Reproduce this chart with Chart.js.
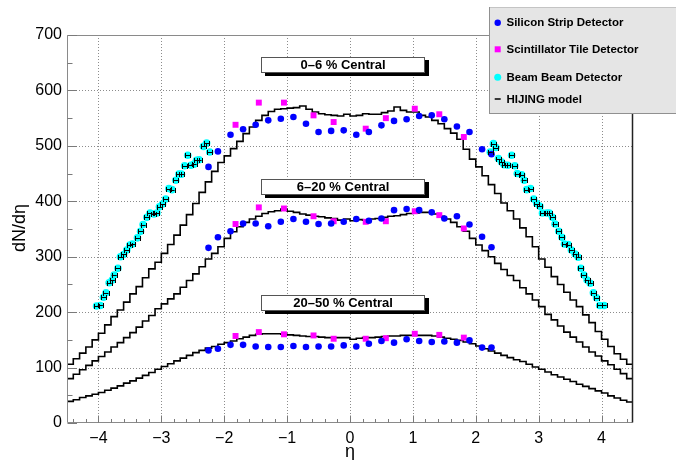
<!DOCTYPE html>
<html>
<head>
<meta charset="utf-8">
<script src="https://cdn.jsdelivr.net/npm/chart.js@4.4.1/dist/chart.umd.min.js"></script>
<style>
html,body{margin:0;padding:0;background:#fff;}
#wrap{position:relative;width:676px;height:460px;}
</style>
</head>
<body>
<div id="wrap"><canvas id="c" width="676" height="460"></canvas></div>
<script>
// ---------- DATA ----------
const xTicks = [-4, -3, -2, -1, 0, 1, 2, 3, 4];
const yTicks = [0, 100, 200, 300, 400, 500, 600, 700];

// HIJING histogram: 90 bins of width 0.1 from -4.5 to 4.5 (values per bin)
const hijingLowEdges = Array.from({length: 90}, (_, i) => -4.5 + i * 0.1);
const hijing0to6 = [
  106,116,126,137,150,162,177,192,204,218,
  233,246,262,278,290,306,322,339,357,376,
  396,416,435,454,470,482,495,508,522,534,
  546,555,562,566,567,568,569,572,566,561,
  558,556,555,554,557,554,555,558,557,557,
  560,563,570,564,561,561,555,552,546,540,
  531,523,512,494,476,462,446,430,414,397,
  383,368,352,336,318,296,281,264,250,236,
  222,210,195,181,165,151,138,125,115,106
];
const hijing6to20 = [
  80,88,96,104,112,120,128,137,145,154,
  163,173,184,194,206,215,224,233,245,257,
  269,282,296,306,318,333,345,354,362,368,
  373,378,381,383,386,382,380,377,375,373,
  372,370,369,366,368,365,367,366,368,369,
  371,373,374,376,378,379,380,380,377,373,
  368,362,354,346,333,321,311,300,288,277,
  266,257,244,233,222,210,196,186,175,164,
  155,146,137,128,121,112,105,97,89,80
];
const hijing20to50 = [
  39,42,46,49,52,55,59,63,67,72,
  76,81,86,91,97,102,107,112,117,122,
  127,131,135,138,142,145,148,152,155,158,
  160,161,161,161,160,159,158,157,156,156,
  155,154,154,154,154,151,153,154,154,155,
  156,157,157,158,158,158,158,158,157,155,
  153,151,149,146,143,139,134,130,126,122,
  118,114,111,106,101,97,92,87,83,79,
  75,70,66,62,58,54,49,45,41,38
];

// Silicon Strip Detector
const ssdEta = [-2.25,-2.1,-1.9,-1.7,-1.5,-1.3,-1.1,-0.9,-0.7,-0.5,-0.3,-0.1,0.1,0.3,0.5,0.7,0.9,1.1,1.3,1.5,1.7,1.9,2.1,2.25];
const ssd0to6   = [462,490,520,530,538,546,549,552,540,525,527,528,520,525,537,545,548,554,555,548,535,525,494,485];
const ssd6to20  = [316,335,346,360,360,355,363,368,363,359,360,363,368,365,369,384,386,384,380,369,373,358,336,317];
const ssd20to50 = [131,134,141,141,138,137,137,139,137,138,138,140,138,143,148,145,151,148,146,147,145,149,136,136];

// Scintillator Tile Detector
const stdEta = [-1.82,-1.45,-1.05,-0.58,-0.26,0.25,0.57,1.03,1.42,1.81];
const std0to6   = [538,578,578,555,543,531,550,567,557,516];
const std6to20  = [359,389,387,373,364,363,364,382,375,351];
const std20to50 = [157,164,160,158,152,152,153,161,159,154];

// Beam Beam Detector (0-6 %)
const bbdEta = [
  -4.03,-3.97,-3.92,-3.88,-3.83,-3.78,-3.75,-3.69,-3.65,-3.60,
  -3.55,-3.50,-3.46,-3.38,-3.33,-3.29,-3.23,-3.18,-3.12,-3.07,
  -3.03,-2.98,-2.93,-2.88,-2.83,-2.77,-2.72,-2.68,-2.63,-2.58,
  -2.53,-2.48,-2.44,-2.40,-2.33,-2.28,-2.23,
  2.23,2.28,2.32,2.36,2.41,2.45,2.51,2.57,2.62,2.66,
  2.73,2.77,2.81,2.87,2.92,2.97,3.02,3.06,3.13,3.17,
  3.22,3.26,3.32,3.37,3.41,3.47,3.52,3.58,3.63,3.67,
  3.72,3.77,3.82,3.87,3.92,3.97,4.04
];
const bbd0to6 = [
  211,212,227,235,253,258,267,279,300,304,
  312,321,323,334,346,358,371,379,377,379,
  390,395,404,423,421,438,449,449,464,483,
  465,467,474,475,499,505,489,
  489,504,497,477,471,466,465,483,464,450,
  448,438,421,423,404,396,391,379,379,379,
  371,359,346,335,323,322,312,305,299,279,
  267,258,252,235,226,212,212
];
const bbdEtaErr = 0.04;

const centralityLabels = ['0\u20136 % Central', '6\u201320 % Central', '20\u201350 % Central'];
const legendLabels = ['Silicon Strip Detector', 'Scintillator Tile Detector', 'Beam Beam Detector', 'HIJING model'];

// ---------- HELPERS ----------
const FONT = "'Liberation Sans', Arial, Helvetica, sans-serif";
const pts = (xs, ys) => xs.map((v, i) => ({x: v, y: ys[i]}));
const hist = (vals) => {
  const d = vals.map((v, i) => ({x: hijingLowEdges[i], y: v}));
  d.push({x: 4.5, y: vals[vals.length - 1]});
  return d;
};
const fmt = v => v < 0 ? '\u2212' + Math.abs(v) : String(v);

const lineDs = (vals) => ({
  type: 'line', data: hist(vals), stepped: true, borderColor: '#000', borderWidth: 1.6,
  pointRadius: 0, fill: false, order: 5, tension: 0
});
const ssdDs = (vals) => ({
  type: 'scatter', data: pts(ssdEta, vals), backgroundColor: '#0000ff', borderWidth: 0,
  pointRadius: 3.3, pointStyle: 'circle', order: 0
});
const stdDs = (vals) => ({
  type: 'scatter', data: pts(stdEta, vals), backgroundColor: '#ff00ff', borderWidth: 0,
  pointRadius: 4.2, pointStyle: 'rect', order: 1
});

const decor = {
  id: 'decor',
  beforeDatasetsDraw(chart) {
    const {ctx, chartArea: a, scales: {x, y}} = chart;
    ctx.save();
    ctx.strokeStyle = '#8c8c8c';
    ctx.lineWidth = 1;
    ctx.setLineDash([1, 2]);
    xTicks.forEach(v => {
      const px = Math.round(x.getPixelForValue(v)) + 0.5;
      ctx.beginPath(); ctx.moveTo(px, a.top); ctx.lineTo(px, a.bottom); ctx.stroke();
    });
    yTicks.forEach(v => {
      if (v <= 0 || v >= 700) return;
      const py = Math.round(y.getPixelForValue(v)) + 0.5;
      ctx.beginPath(); ctx.moveTo(a.left, py); ctx.lineTo(a.right, py); ctx.stroke();
    });
    ctx.restore();
  },
  afterDatasetsDraw(chart) {
    const {ctx, chartArea: a, scales: {x, y}} = chart;
    ctx.save();
    // BBD error bars ("H")
    ctx.strokeStyle = '#000';
    ctx.lineWidth = 1;
    bbdEta.forEach((e, i) => {
      const x1 = x.getPixelForValue(e - bbdEtaErr), x2 = x.getPixelForValue(e + bbdEtaErr);
      const py = Math.round(y.getPixelForValue(bbd0to6[i])) + 0.5;
      ctx.beginPath();
      ctx.moveTo(x1, py); ctx.lineTo(x2, py);
      ctx.moveTo(Math.round(x1) + 0.5, py - 2.5); ctx.lineTo(Math.round(x1) + 0.5, py + 2.5);
      ctx.moveTo(Math.round(x2) + 0.5, py - 2.5); ctx.lineTo(Math.round(x2) + 0.5, py + 2.5);
      ctx.stroke();
    });

    // frame
    const L = Math.round(a.left) + 0.5, R = Math.round(a.right) - 0.5;
    const T = Math.round(a.top) + 0.5, B = Math.round(a.bottom) - 0.5;
    ctx.strokeStyle = '#8a8a8a';
    ctx.lineWidth = 1;
    ctx.beginPath();
    ctx.moveTo(L, T); ctx.lineTo(R, T);
    ctx.moveTo(L, T); ctx.lineTo(L, B); ctx.lineTo(R, B);
    ctx.stroke();
    ctx.strokeStyle = '#222';
    ctx.lineWidth = 1.5;
    ctx.beginPath(); ctx.moveTo(R, T); ctx.lineTo(R, B); ctx.stroke();

    // tick marks (inside)
    ctx.strokeStyle = '#7a7a7a';
    ctx.lineWidth = 1;
    ctx.beginPath();
    for (let k = -22; k <= 22; k++) {
      const v = k * 0.2;
      const px = Math.round(x.getPixelForValue(v)) + 0.5;
      ctx.moveTo(px, B); ctx.lineTo(px, B - 3.5);
    }
    xTicks.forEach(v => {
      const px = Math.round(x.getPixelForValue(v)) + 0.5;
      ctx.moveTo(px, B); ctx.lineTo(px, B - 7);
    });
    for (let v = 50; v < 700; v += 100) {
      const py = Math.round(y.getPixelForValue(v)) + 0.5;
      ctx.moveTo(L, py); ctx.lineTo(L + 5, py);
    }
    yTicks.forEach(v => {
      const py = Math.round(y.getPixelForValue(v)) + 0.5;
      ctx.moveTo(L, py); ctx.lineTo(L + 9.5, py);
    });
    ctx.stroke();

    // centrality label boxes
    const boxVals = [646, 425.5, 216];
    const bw = 164, bh = 16;
    centralityLabels.forEach((t, i) => {
      const cx = x.getPixelForValue(-0.11), cy = y.getPixelForValue(boxVals[i]);
      const bx = Math.round(cx - bw / 2), by = Math.round(cy - bh / 2);
      ctx.fillStyle = '#000';
      ctx.fillRect(bx + 4, by + 3, bw, bh);
      ctx.fillStyle = '#fff';
      ctx.fillRect(bx, by, bw, bh);
      ctx.strokeStyle = '#555';
      ctx.lineWidth = 1;
      ctx.strokeRect(bx + 0.5, by + 0.5, bw - 1, bh - 1);
      ctx.fillStyle = '#000';
      ctx.font = 'bold 13px ' + FONT;
      ctx.textAlign = 'center';
      ctx.textBaseline = 'middle';
      ctx.fillText(t, cx, by + bh / 2 + 0.5);
    });

    // axis titles
    ctx.fillStyle = '#000';
    ctx.font = '18px ' + FONT;
    ctx.textAlign = 'center';
    ctx.textBaseline = 'middle';
    ctx.fillText('\u03b7', x.getPixelForValue(0), 452);
    ctx.save();
    ctx.translate(20, 228);
    ctx.rotate(-Math.PI / 2);
    ctx.fillText('dN/d\u03b7', 0, 0);
    ctx.restore();

    // legend
    const lx = 489, ly = 7, lw = 187, lh = 107;
    ctx.fillStyle = '#e5e5e5';
    ctx.fillRect(lx, ly, lw, lh);
    ctx.strokeStyle = '#c4c4c4';
    ctx.lineWidth = 1;
    ctx.strokeRect(lx + 0.5, ly + 0.5, lw, lh - 1);
    ctx.strokeStyle = '#909090';
    ctx.beginPath(); ctx.moveTo(lx, ly + lh - 0.5); ctx.lineTo(lx + lw, ly + lh - 0.5);
    ctx.moveTo(lx + 0.5, ly); ctx.lineTo(lx + 0.5, ly + lh); ctx.stroke();
    const rows = [22.7, 49.3, 77.3, 99];
    const mx = 497.7, tx = 506.5;
    ctx.fillStyle = '#0000ff';
    ctx.beginPath(); ctx.arc(mx, rows[0], 3.2, 0, Math.PI * 2); ctx.fill();
    ctx.fillStyle = '#ff00ff';
    ctx.fillRect(mx - 3, rows[1] - 3, 6, 6);
    ctx.fillStyle = '#00ffff';
    ctx.beginPath(); ctx.arc(mx, rows[2], 3.5, 0, Math.PI * 2); ctx.fill();
    ctx.strokeStyle = '#000';
    ctx.lineWidth = 1.5;
    ctx.beginPath(); ctx.moveTo(mx - 3, rows[3]); ctx.lineTo(mx + 3, rows[3]); ctx.stroke();
    ctx.fillStyle = '#000';
    ctx.font = 'bold 11.5px ' + FONT;
    ctx.textAlign = 'left';
    ctx.textBaseline = 'middle';
    legendLabels.forEach((t, i) => ctx.fillText(t, tx, rows[i] + 0.5));
    ctx.restore();
  }
};

new Chart(document.getElementById('c'), {
  type: 'scatter',
  data: {
    datasets: [
      lineDs(hijing0to6), lineDs(hijing6to20), lineDs(hijing20to50),
      {type: 'scatter', data: pts(bbdEta, bbd0to6), backgroundColor: '#00ffff', borderWidth: 0,
       pointRadius: 3.8, order: 2},
      stdDs(std0to6), stdDs(std6to20), stdDs(std20to50),
      ssdDs(ssd0to6), ssdDs(ssd6to20), ssdDs(ssd20to50)
    ]
  },
  options: {
    responsive: false,
    animation: false,
    events: [],
    layout: {padding: {left: 0, top: 35, right: 43, bottom: 0}},
    plugins: {legend: {display: false}, tooltip: {enabled: false}},
    scales: {
      x: {
        type: 'linear', min: -4.5, max: 4.5,
        afterBuildTicks: s => { s.ticks = xTicks.map(v => ({value: v})); },
        afterFit: s => { s.height = 37; },
        grid: {display: false, drawTicks: false},
        border: {display: false},
        ticks: {padding: 6, color: '#000', font: {family: FONT, size: 16}, maxRotation: 0, autoSkip: false,
                callback: v => fmt(v)}
      },
      y: {
        type: 'linear', min: 0, max: 700,
        afterBuildTicks: s => { s.ticks = yTicks.map(v => ({value: v})); },
        afterFit: s => { s.width = 67; },
        grid: {display: false, drawTicks: false},
        border: {display: false},
        ticks: {padding: 5, color: '#000', font: {family: FONT, size: 16}, callback: v => String(v)}
      }
    }
  },
  plugins: [decor]
});
</script>
</body>
</html>
